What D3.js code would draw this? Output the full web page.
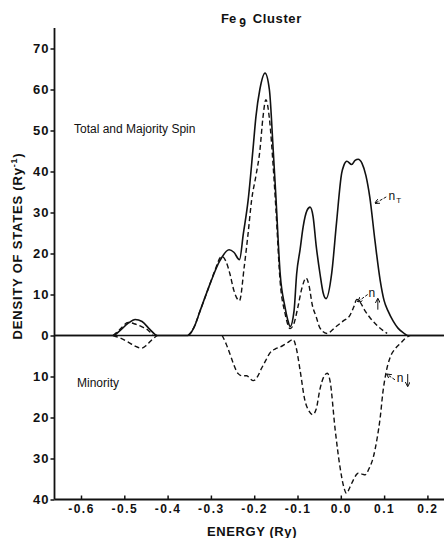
<!DOCTYPE html>
<html>
<head>
<meta charset="utf-8">
<script src="https://cdn.jsdelivr.net/npm/d3@7"></script>
<style>
body { margin: 0; background: #fff; }
svg text { font-family: "Liberation Sans", Arial, sans-serif; fill: #111; }
</style>
</head>
<body>
<svg id="chart" width="444" height="538"></svg>
<script>
// energy (Ry), density of states (Ry^-1); minority is drawn downward (negative)
var totalDos = [
	[-0.661,0],[-0.526,0],[-0.510,1.2],[-0.491,3.0],[-0.475,3.9],[-0.459,3.4],[-0.441,1.5],[-0.424,0],
	[-0.353,0],[-0.339,2],[-0.325,6],[-0.302,12.6],[-0.279,18.3],[-0.258,20.9],[-0.247,20.3],[-0.234,18.5],
	[-0.225,24.9],[-0.214,33],[-0.203,45.2],[-0.196,53.4],[-0.187,60],[-0.175,64],[-0.165,60],[-0.156,45],
	[-0.150,34],[-0.140,15],[-0.129,7],[-0.123,4],[-0.117,2.2],[-0.108,6],[-0.102,15],[-0.094,21],
	[-0.087,26.5],[-0.078,30.5],[-0.071,31.3],[-0.064,29],[-0.057,22],[-0.048,15],[-0.041,10.5],[-0.034,9],
	[-0.021,15.2],[-0.010,27.4],[0.002,39.6],[0.007,41.5],[0.014,42.5],[0.025,41.7],[0.033,42.7],[0.040,43],
	[0.049,42],[0.058,39],[0.067,33.7],[0.079,23],[0.091,13.4],[0.100,8.5],[0.109,6],[0.121,3.5],
	[0.132,1.8],[0.144,0.7],[0.155,0],[0.238,0]
];
var majorityLow = [[-0.526,0],[-0.510,1.5],[-0.491,3.2],[-0.475,2.8],[-0.459,2.1],[-0.445,1.3],[-0.434,0]];
var majorityMain = [
	[-0.353,0],[-0.339,2],[-0.325,6],[-0.302,12.6],[-0.291,15.8],[-0.275,19.3],[-0.265,18],[-0.256,15],
	[-0.247,11],[-0.234,8.5],[-0.223,16.8],[-0.214,25],[-0.206,33],[-0.196,39],[-0.187,45],[-0.180,53],
	[-0.173,57.5],[-0.165,53],[-0.156,41],[-0.150,31],[-0.140,13],[-0.129,5.5],[-0.117,1.7],[-0.108,3],
	[-0.099,7],[-0.090,11.5],[-0.080,14],[-0.073,12],[-0.066,7.5],[-0.057,4.6],[-0.048,1.8],[-0.032,0.5],
	[-0.013,2],[0.005,3.5],[0.021,4.9],[0.030,7],[0.037,8.8],[0.044,8.2],[0.056,6],[0.067,4.4],
	[0.086,2.2],[0.107,0.5]
];
var minorityLow = [[-0.526,0],[-0.510,-0.6],[-0.491,-1.6],[-0.475,-2.6],[-0.460,-3.1],[-0.448,-2.3],[-0.436,-1],[-0.424,0]];
var minorityMain = [
	[-0.274,0],[-0.265,-2],[-0.256,-4.5],[-0.248,-6.9],[-0.237,-9.3],[-0.228,-9.8],[-0.217,-9.8],[-0.210,-10.5],
	[-0.202,-11],[-0.194,-10.3],[-0.183,-8],[-0.173,-6],[-0.164,-4.3],[-0.152,-3.3],[-0.140,-2.8],[-0.124,-1.8],
	[-0.110,-1],[-0.103,-3],[-0.094,-8.5],[-0.083,-15.8],[-0.073,-18.5],[-0.065,-19.3],[-0.057,-18],[-0.048,-13],
	[-0.039,-10],[-0.031,-9.2],[-0.025,-11],[-0.013,-23],[-0.002,-32],[0.007,-37],[0.013,-38.5],[0.021,-37],
	[0.030,-35],[0.040,-33.6],[0.049,-33.8],[0.056,-34],[0.065,-32.5],[0.075,-29.7],[0.084,-25],[0.091,-20],
	[0.097,-14],[0.104,-9.3],[0.114,-5.3],[0.125,-3.3],[0.137,-2],[0.148,-0.8],[0.160,0]
];
var energyTicks = [-0.6, -0.5, -0.4, -0.3, -0.2, -0.1, 0.0, 0.1, 0.2];
var dosTicks = [-40, -30, -20, -10, 0, 10, 20, 30, 40, 50, 60, 70];

var svg = d3.select("#chart");
var x = d3.scaleLinear().domain([-0.6612, 0.2383]).range([54.5, 444]);
var y = d3.scaleLinear().domain([-40, 70]).range([499.5, 48.5]);

svg.append("defs").append("marker")
	.attr("id", "head")
	.attr("viewBox", "0 0 6 6")
	.attr("refX", 5).attr("refY", 3)
	.attr("markerWidth", 5).attr("markerHeight", 5)
	.attr("orient", "auto")
	.append("path").attr("d", "M0,0L6,3L0,6").attr("fill", "none").attr("stroke", "#111").attr("stroke-width", 1.2);

// axes
var yAxis = d3.axisLeft(y).tickValues(dosTicks).tickFormat(function(d) { return Math.abs(d); })
	.tickSize(4).tickPadding(1);
var gy = svg.append("g").attr("transform", "translate(54.5,0)").call(yAxis);
gy.select(".domain").remove();
gy.selectAll("text").attr("font-size", 13).attr("font-weight", "bold").attr("letter-spacing", 1);
gy.selectAll("line").attr("stroke", "#111").attr("stroke-width", 1.5);

var xAxis = d3.axisBottom(x).tickValues(energyTicks).tickFormat(function(d) { return d.toFixed(1); })
	.tickSize(-4).tickPadding(5);
var gx = svg.append("g").attr("transform", "translate(0,499.5)").call(xAxis);
gx.select(".domain").remove();
gx.selectAll("text").attr("font-size", 12).attr("font-weight", "bold").attr("letter-spacing", 1.5);
gx.selectAll("line").attr("stroke", "#111").attr("stroke-width", 1.5);

svg.append("line").attr("x1", 54.5).attr("x2", 54.5).attr("y1", 28).attr("y2", y(-40))
	.attr("stroke", "#111").attr("stroke-width", 1.8);
svg.append("line").attr("x1", 54.5).attr("x2", 444).attr("y1", y(-40)).attr("y2", y(-40))
	.attr("stroke", "#111").attr("stroke-width", 1.8);
svg.append("line").attr("x1", 54.5).attr("x2", 444).attr("y1", y(0)).attr("y2", y(0))
	.attr("stroke", "#111").attr("stroke-width", 1.6);

// curves
var line = d3.line().x(function(d) { return x(d[0]); }).y(function(d) { return y(d[1]); })
	.curve(d3.curveMonotoneX);

svg.append("path").datum(totalDos).attr("d", line)
	.attr("fill", "none").attr("stroke", "#111").attr("stroke-width", 1.6);
[majorityLow, majorityMain, minorityLow, minorityMain].forEach(function(s) {
	svg.append("path").datum(s).attr("d", line)
		.attr("fill", "none").attr("stroke", "#111").attr("stroke-width", 1.4)
		.attr("stroke-dasharray", "5,3");
});

// titles and labels
var title = svg.append("text").attr("x", 221).attr("y", 22.5).attr("font-size", 13).attr("font-weight", "bold");
title.append("tspan").text("Fe");
title.append("tspan").attr("dx", 3).attr("dy", 4.5).attr("font-size", 12).text("9");
title.append("tspan").attr("dx", 7).attr("dy", -4.5).attr("letter-spacing", 0.6).text("Cluster");

svg.append("text").attr("x", 74).attr("y", 132.5).attr("font-size", 12).text("Total and Majority Spin");
svg.append("text").attr("x", 77).attr("y", 387).attr("font-size", 12).text("Minority");

svg.append("text").attr("x", 252).attr("y", 536).attr("text-anchor", "middle")
	.attr("font-size", 13).attr("font-weight", "bold").attr("letter-spacing", 0.6).text("ENERGY (Ry)");

var ylab = svg.append("text").attr("transform", "translate(21.5,246) rotate(-90)")
	.attr("text-anchor", "middle").attr("font-size", 13).attr("font-weight", "bold").attr("letter-spacing", 0.8);
ylab.append("tspan").text("DENSITY OF STATES (Ry");
ylab.append("tspan").attr("dy", -5).attr("font-size", 9).text("-1");
ylab.append("tspan").attr("dy", 5).text(")");

// curve labels with pointers
function pointer(from, to) {
	svg.append("line")
		.attr("x1", x(from[0])).attr("y1", y(from[1]))
		.attr("x2", x(to[0])).attr("y2", y(to[1]))
		.attr("stroke", "#111").attr("stroke-width", 1).attr("stroke-dasharray", "3,1.5")
		.attr("marker-end", "url(#head)");
}
pointer([0.105, 33.8], [0.080, 32.3]);
pointer([0.062, 10], [0.040, 8.3]);
pointer([0.125, -10.8], [0.107, -9.5]);

var nT = svg.append("text").attr("x", x(0.110)).attr("y", y(33)).attr("font-size", 12);
nT.append("tspan").text("n");
nT.append("tspan").attr("dx", 1).attr("dy", 3).attr("font-size", 8).text("T");

svg.append("text").attr("x", x(0.064)).attr("y", y(9.4)).attr("font-size", 12).text("n");
svg.append("line").attr("x1", x(0.0855)).attr("x2", x(0.0855)).attr("y1", y(6.3)).attr("y2", y(8.9))
	.attr("stroke", "#111").attr("stroke-width", 1).attr("marker-end", "url(#head)");

svg.append("text").attr("x", x(0.129)).attr("y", y(-11.3)).attr("font-size", 12).text("n");
svg.append("line").attr("x1", x(0.1545)).attr("x2", x(0.1545)).attr("y1", y(-9.4)).attr("y2", y(-12.3))
	.attr("stroke", "#111").attr("stroke-width", 1).attr("marker-end", "url(#head)");
</script>
</body>
</html>
